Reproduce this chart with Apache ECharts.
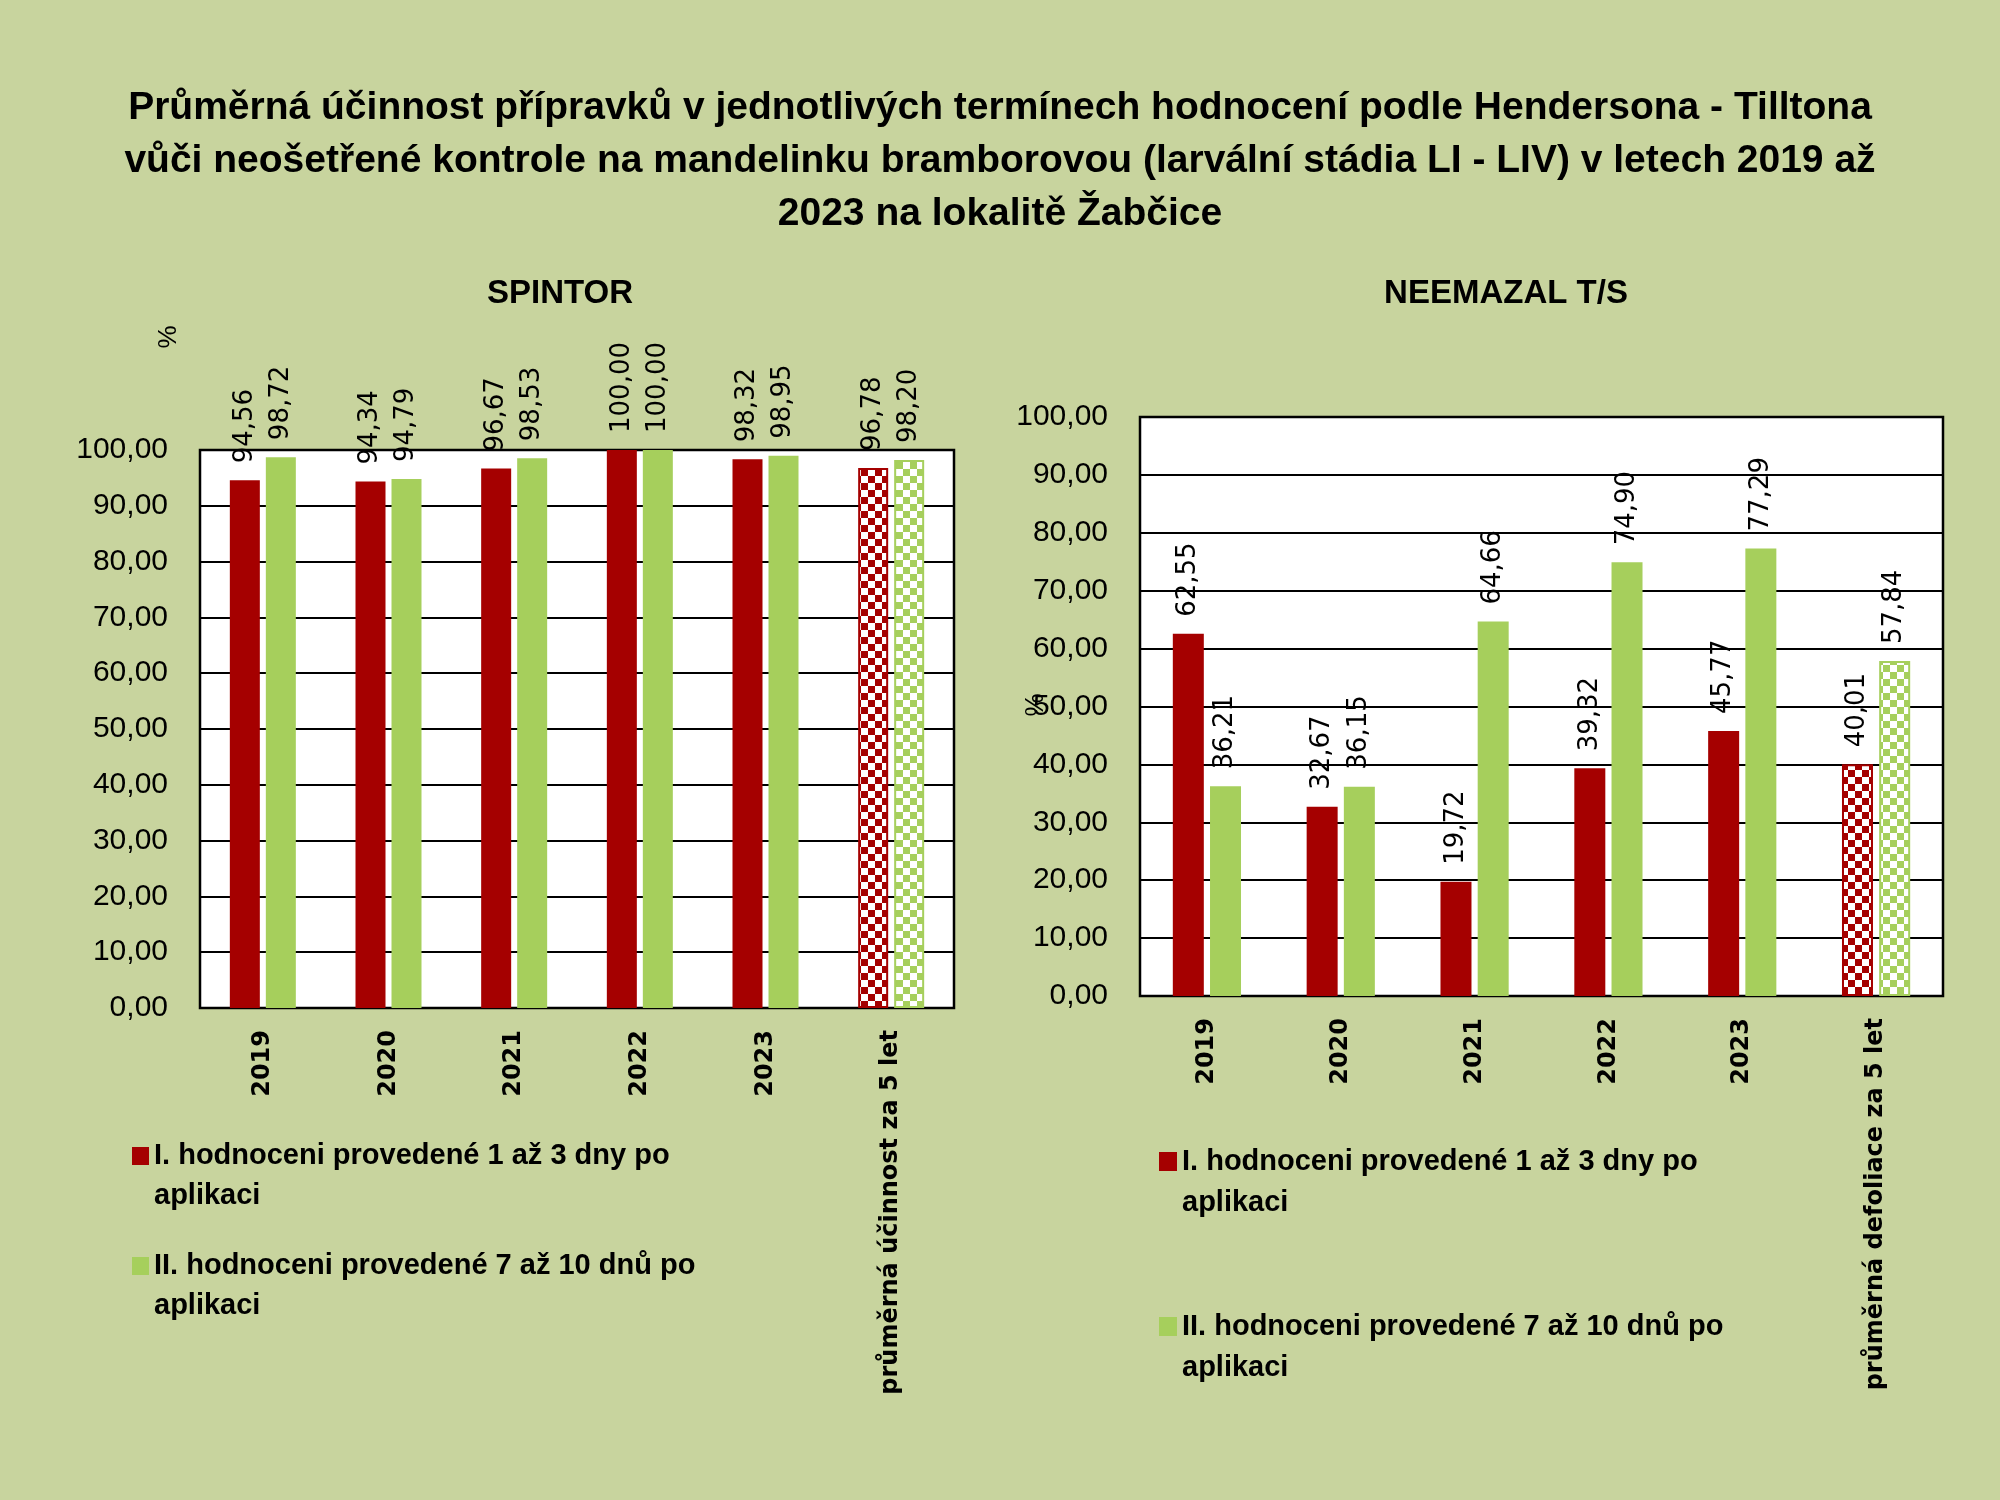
<!DOCTYPE html>
<html>
<head>
<meta charset="utf-8">
<script src="https://cdn.jsdelivr.net/npm/echarts@6/dist/echarts.min.js"></script>
<style>
html,body{margin:0;padding:0;background:#C8D49E;}
#chart{width:2000px;height:1500px;}
</style>
</head>
<body>
<div id="chart"></div>
<script>
// ---- data ----
const mainTitle = 'Průměrná účinnost přípravků v jednotlivých termínech hodnocení podle Hendersona - Tilltona\nvůči neošetřené kontrole na mandelinku bramborovou (larvální stádia LI - LIV) v letech 2019 až\n2023 na lokalitě Žabčice';
const leftTitle = 'SPINTOR';
const rightTitle = 'NEEMAZAL T/S';
const seriesNames = ['I. hodnoceni provedené 1 až 3 dny po aplikaci', 'II. hodnoceni provedené 7 až 10 dnů po aplikaci'];
const leftCategories = ['2019', '2020', '2021', '2022', '2023', 'průměrná účinnost za 5 let'];
const rightCategories = ['2019', '2020', '2021', '2022', '2023', 'průměrná defoliace za 5 let'];
const spintorI = [94.56, 94.34, 96.67, 100.00, 98.32, 96.78];
const spintorII = [98.72, 94.79, 98.53, 100.00, 98.95, 98.20];
const neemazalI = [62.55, 32.67, 19.72, 39.32, 45.77, 40.01];
const neemazalII = [36.21, 36.15, 64.66, 74.90, 77.29, 57.84];
const yTicks = {min: 0, max: 100, interval: 10};

// ---- styles ----
const BG = '#C8D49E';
const RED = '#A50000';
const GREEN = '#A6CF5C';

function checker(color) {
  const s = 7;
  const c = document.createElement('canvas');
  c.width = 2 * s; c.height = 2 * s;
  const g = c.getContext('2d');
  g.fillStyle = '#ffffff'; g.fillRect(0, 0, 2 * s, 2 * s);
  g.fillStyle = color; g.fillRect(0, 0, s, s); g.fillRect(s, s, s, s);
  return {image: c, repeat: 'repeat'};
}

function buildData(values, color) {
  return values.map((v, i) => i === values.length - 1
    ? {value: v, itemStyle: {color: checker(color), borderColor: color, borderWidth: 2}}
    : v);
}

const fmt = p => p.value.toFixed(2).replace('.', ',');

function barSeries(name, values, color, idx, bw) {
  return {
    type: 'bar', name: name, xAxisIndex: idx, yAxisIndex: idx,
    data: buildData(values, color), barWidth: bw, barGap: '20%',
    itemStyle: {color: color},
    label: {show: true, position: 'top', rotate: 90, align: 'left', verticalAlign: 'middle',
      distance: 17, formatter: fmt, color: '#000', fontFamily: 'DejaVu Sans', fontSize: 26},
    emphasis: {disabled: true}
  };
}

const yAxisBase = {
  type: 'value', min: yTicks.min, max: yTicks.max, interval: yTicks.interval,
  axisLine: {show: false}, axisTick: {show: false},
  splitLine: {show: true, lineStyle: {color: '#000', width: 2}},
  axisLabel: {formatter: v => v.toFixed(2).replace('.', ','), color: '#000',
    fontFamily: 'Liberation Sans', fontSize: 30, margin: 32}
};
const xAxisBase = {
  type: 'category', axisLine: {show: false}, axisTick: {show: false},
  axisLabel: {rotate: 90, color: '#000', fontFamily: 'DejaVu Sans', fontWeight: 'bold', fontSize: 24, margin: 22, interval: 0}
};

// leading blank line keeps the icon level with the first text line
const legendFmt = n => '\n' + n.replace(' aplikaci', '\naplikaci');

const option = {
  backgroundColor: BG,
  animation: false,
  title: [
    {text: mainTitle, left: 1000, top: 82, textAlign: 'center', padding: 0,
     textStyle: {fontFamily: 'Liberation Sans', fontWeight: 'bold', fontSize: 39, lineHeight: 53, color: '#000'}},
    {text: leftTitle, left: 560, top: 277, textAlign: 'center', padding: 0,
     textStyle: {fontFamily: 'Liberation Sans', fontWeight: 'bold', fontSize: 33, color: '#000'}},
    {text: rightTitle, left: 1506, top: 277, textAlign: 'center', padding: 0,
     textStyle: {fontFamily: 'Liberation Sans', fontWeight: 'bold', fontSize: 33, color: '#000'}}
  ],
  grid: [
    {left: 200, top: 450, width: 754, height: 558, show: true, backgroundColor: '#fff', borderColor: '#000', borderWidth: 2.5, containLabel: false},
    {left: 1140, top: 417, width: 803, height: 579, show: true, backgroundColor: '#fff', borderColor: '#000', borderWidth: 2.5, containLabel: false}
  ],
  xAxis: [
    Object.assign({}, xAxisBase, {gridIndex: 0, data: leftCategories}),
    Object.assign({}, xAxisBase, {gridIndex: 1, data: rightCategories})
  ],
  yAxis: [
    Object.assign({}, yAxisBase, {gridIndex: 0}),
    Object.assign({}, yAxisBase, {gridIndex: 1})
  ],
  legend: [
    {orient: 'vertical', left: 132, top: 1096, padding: 0, itemGap: -10, itemWidth: 17, itemHeight: 18,
     icon: 'rect', data: seriesNames, formatter: legendFmt, selectedMode: false,
     textStyle: {fontFamily: 'Liberation Sans', fontWeight: 'bold', fontSize: 29, lineHeight: 40, color: '#000'}},
    {orient: 'vertical', left: 1159, top: 1100, padding: 0, itemGap: 42, itemWidth: 18, itemHeight: 19,
     icon: 'rect', data: seriesNames, formatter: legendFmt, selectedMode: false,
     textStyle: {fontFamily: 'Liberation Sans', fontWeight: 'bold', fontSize: 29, lineHeight: 41, color: '#000'}}
  ],
  graphic: [
    {type: 'text', x: 169, y: 337, rotation: Math.PI / 2,
     style: {text: '%', fill: '#000', font: '26px "Liberation Sans"', align: 'center', verticalAlign: 'middle'}},
    {type: 'text', x: 1036, y: 705, rotation: Math.PI / 2,
     style: {text: '%', fill: '#000', font: '26px "Liberation Sans"', align: 'center', verticalAlign: 'middle'}}
  ],
  series: [
    barSeries(seriesNames[0], spintorI, RED, 0, 30),
    barSeries(seriesNames[1], spintorII, GREEN, 0, 30),
    barSeries(seriesNames[0], neemazalI, RED, 1, 31),
    barSeries(seriesNames[1], neemazalII, GREEN, 1, 31)
  ]
};

const chart = echarts.init(document.getElementById('chart'), null, {renderer: 'canvas'});
chart.setOption(option);
</script>
</body>
</html>
